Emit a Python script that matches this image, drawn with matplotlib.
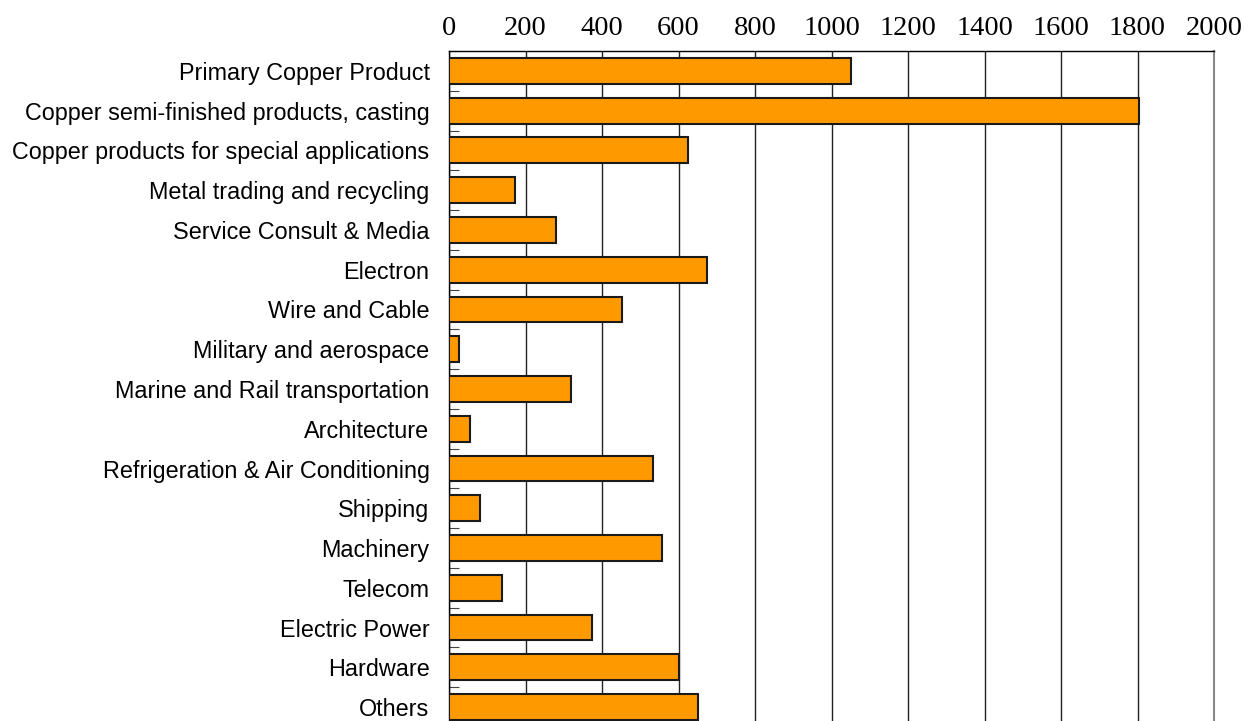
import numpy as np
import matplotlib
matplotlib.use("Agg")
import matplotlib.pyplot as plt

categories = ["Primary Copper Product", "Copper semi-finished products, casting",
              "Copper products for special applications", "Metal trading and recycling",
              "Service Consult & Media", "Electron", "Wire and Cable",
              "Military and aerospace", "Marine and Rail transportation", "Architecture",
              "Refrigeration & Air Conditioning", "Shipping", "Machinery", "Telecom",
              "Electric Power", "Hardware", "Others"]
values = [1051, 1803, 626, 173, 281, 674, 452, 25, 320, 56, 534, 82, 556, 138, 373, 600, 652]
xticks = [0, 200, 400, 600, 800, 1000, 1200, 1400, 1600, 1800, 2000]

fig = plt.figure(figsize=(12.45, 7.21), dpi=100)
ax = fig.add_axes([449/1245, 0, 765/1245, 670/721])

y = np.arange(len(categories))
ax.barh(y, values, height=0.65, color="#FF9900", edgecolor="#1a1a1a", linewidth=1.5, zorder=3)

ax.set_xlim(0, 2000)
ax.set_ylim(16.35, -0.5)
ax.set_xticks(xticks)
ax.xaxis.tick_top()
ax.tick_params(axis="x", length=0, pad=7, labelsize=20.5)
for lab in ax.get_xticklabels():
    lab.set_fontfamily("Liberation Serif")

ax.set_yticks(y)
ax.set_yticklabels(categories, fontsize=16.8, fontfamily="Liberation Sans")
ax.tick_params(axis="y", which="major", length=0, pad=14)
ax.set_yticks(np.arange(len(categories)) - 0.5, minor=True)
ax.tick_params(axis="y", which="minor", direction="in", length=7, width=0.8, color="#444444")

ax.grid(axis="x", color="#222222", linewidth=1.0, zorder=0)
ax.spines["bottom"].set_visible(False)
ax.spines["right"].set_color("#888888")
ax.spines["right"].set_linewidth(1.5)
ax.spines["top"].set_linewidth(1.0)
ax.spines["left"].set_linewidth(1.0)

plt.savefig("out.png", dpi=100)
